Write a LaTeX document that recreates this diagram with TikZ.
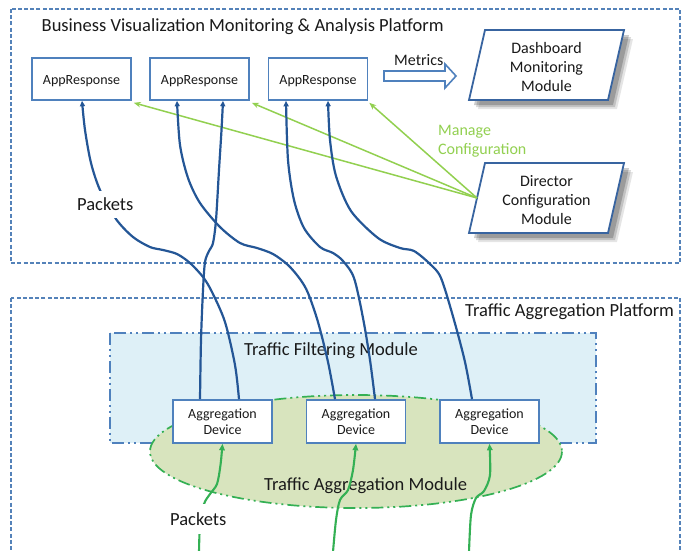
\documentclass[tikz,border=0pt]{standalone}
\usepackage{fontspec}
\setmainfont{Carlito}
\usetikzlibrary{calc,arrows.meta}
\definecolor{boxblue}{RGB}{79,129,189}
\definecolor{parablue}{RGB}{56,100,160}
\definecolor{dashblue}{RGB}{84,130,185}
\definecolor{curveblue}{RGB}{36,86,150}
\definecolor{pktgreen}{RGB}{52,176,84}
\definecolor{cfggreen}{RGB}{146,208,80}
\definecolor{filterfill}{RGB}{222,240,247}
\definecolor{aggfill}{RGB}{216,228,190}
\definecolor{txt}{RGB}{26,26,26}
\tikzset{
 outerbox/.style={draw=dashblue, line width=1.4pt, dash pattern=on 4pt off 2.2pt},
 appbox/.style={draw=boxblue, line width=1.6pt, fill=white, minimum width=99pt, minimum height=42pt, font=\fontsize{14}{16}\selectfont, text=txt, text height=13pt, text depth=1.5pt, inner sep=0pt},
 aggbox/.style={draw=boxblue, line width=1.6pt, fill=white, minimum width=99pt, minimum height=43pt, font=\fontsize{14}{16}\selectfont, text=txt, align=center, inner sep=0pt},
 bigtext/.style={font=\fontsize{18.5}{22}\selectfont, text=txt, inner sep=0pt, anchor=base west},
 midtext/.style={font=\fontsize{16}{19}\selectfont, text=txt, inner sep=0pt, align=center},
 flow/.style={draw=curveblue, line width=2.2pt, -{Triangle[length=5.5pt,width=5pt]}},
 pkt/.style={draw=pktgreen, line width=2.1pt, -{Triangle[length=6.5pt,width=5.5pt]}},
 cfg/.style={draw=cfggreen, line width=1.5pt, -{Stealth[length=7pt,width=5.5pt]}},
 para/.style={draw=parablue, line width=1.8pt, fill=white},
 dashdotdot/.style={dash pattern=on 12pt off 4pt on 2pt off 4pt on 2pt off 4pt},
}
\begin{document}
\begin{tikzpicture}[x=1pt,y=-1pt]
\useasboundingbox (0,0) rectangle (686,550);
\clip (0,0) rectangle (686,550);
\fill[white] (0,0) rectangle (686,550);

% outer platforms
\draw[outerbox] (11,9) rectangle (680,263);
\draw[outerbox] (11,298) rectangle (680,570);

% filtering module
\filldraw[fill=filterfill, draw=boxblue, line width=1.6pt, dashdotdot] (110,333) rectangle (596,443);
% aggregation module
\filldraw[fill=aggfill, draw=pktgreen, line width=1.7pt, dashdotdot] (356,451.5) ellipse [x radius=206, y radius=56.5];

% texts
\node[bigtext] (title) at (41.5,31.5) {Business Visualization Monitoring \& Analysis Platform};
\node[bigtext] (tap) at (465,316) {Traffic Aggregation Platform};
\node[bigtext] (tfm) at (244,355) {Traffic Filtering Module};
\node[bigtext] (tam) at (264,490) {Traffic Aggregation Module};

% parallelograms with shadows
\foreach \o/\op in {9/0.10,7/0.15,5/0.2}{
  \fill[black, opacity=\op] ($(546.5,65)+(\o,\o)$) +(-77.5,35) -- +(61.5,35) -- +(77.5,-35) -- +(-61.5,-35) -- cycle;
  \fill[black, opacity=\op] ($(546.5,198)+(\o,\o)$) +(-77.5,35) -- +(61.5,35) -- +(77.5,-35) -- +(-61.5,-35) -- cycle;
}
\draw[para] (546.5,65) +(-77.5,35) -- +(61.5,35) -- +(77.5,-35) -- +(-61.5,-35) -- cycle;
\draw[para] (546.5,198) +(-77.5,35) -- +(61.5,35) -- +(77.5,-35) -- +(-61.5,-35) -- cycle;
\node[midtext] (dash) at (546.5,66.5) {Dashboard\\Monitoring\\Module};
\node[midtext] (dir) at (546.5,200) {Director\\Configuration\\Module};
\coordinate (dirL) at ($(dir)+(-69.5,-2)$);

% metrics arrow
\filldraw[fill=white, draw=boxblue, line width=1.6pt] (384,71) -- (445,71) -- (445,64) -- (456,76) -- (445,88) -- (445,81) -- (384,81) -- cycle;
\node[midtext, anchor=base west] (metrics) at (394,65) {Metrics};
\node[midtext, anchor=base west, text=cfggreen, align=left] (manage) at (438,154) {Manage\\Configuration};

% AppResponse boxes
\node[appbox] (app1) at (81.5,79) {AppResponse};
\node[appbox] (app2) at (199.5,79) {AppResponse};
\node[appbox] (app3) at (318,79) {AppResponse};

% Aggregation devices
\node[aggbox] (agg1) at (222.5,421.5) {Aggregation\\Device};
\node[aggbox] (agg2) at (356,421.5) {Aggregation\\Device};
\node[aggbox] (agg3) at (489.5,421.5) {Aggregation\\Device};

% config lines
\draw[cfg] (dirL) -- ($(app1.south east)+(2,2)$);
\draw[cfg] (dirL) -- ($(app2.south east)+(2,2)$);
\draw[cfg] (dirL) -- ($(app3.south east)+(1,2)$);

% blue packet flows
\coordinate (as) at ($(agg1.north)+(-22.5,0)$);
\coordinate (ae) at ($(app2.south)+(23.5,0)$);
\coordinate (bs) at ($(agg1.north)+(16.5,0)$);
\coordinate (be) at ($(app1.south)+(0.5,0)$);
\coordinate (cs) at ($(agg2.north)+(-21,0)$);
\coordinate (ce) at ($(app2.south)+(-22.5,0)$);
\coordinate (ds) at ($(agg2.north)+(19,0)$);
\coordinate (de) at ($(app3.south)+(-32,0)$);
\coordinate (es) at ($(agg3.north)+(-17.5,0)$);
\coordinate (ee) at ($(app3.south)+(10,0)$);

\draw[flow] plot[smooth, tension=0.5] coordinates {(as) (201,340) (203,290) (205,262) (209,251) (213,243) (216,220) (219,170) (221.5,130) (ae)};
\draw[flow] plot[smooth, tension=0.5] coordinates {(bs) (235,365) (225,322) (212,292) (203,277) (190,263) (177,254) (163,250) (150,247) (133,237) (116,219) (100,190) (91,163) (85,130) (be)};
\draw[flow] plot[smooth, tension=0.5] coordinates {(cs) (328,362) (318,322) (308,293) (300,279) (288,265) (273,254) (257,248) (240,243) (220,227) (200,203) (188,178) (180,145) (ce)};
\draw[flow] plot[smooth, tension=0.5] coordinates {(ds) (370,360) (363,318) (354,278) (343,261) (333,253) (320,247) (304,228) (294,200) (288,160) (de)};
\draw[flow] plot[smooth, tension=0.5] coordinates {(es) (465,362) (454,320) (441,278) (430,264) (414,251) (400,248) (378,238) (351,211) (336,176) (330,140) (ee)};

% green packet arrows
\coordinate (g1s) at (199,552);
\coordinate (g2s) at (333,552);
\coordinate (g3s) at (469,552);
\draw[pkt] plot[smooth, tension=0.5] coordinates {(g1s) (200,525) (204,504) (210,494) (217,484) (220.5,465) (agg1.south)};
\draw[pkt] plot[smooth, tension=0.5] coordinates {(g2s) (336,520) (340,500) (348,490) (353,470) (agg2.south)};
\draw[pkt] plot[smooth, tension=0.5] coordinates {(g3s) (471,515) (476,498) (484,491) (490,475) (agg3.south)};

% packet labels
\node[bigtext, fill=white, inner xsep=2pt, inner ysep=7pt] (pk1) at (75,210.7) {Packets};
\node[bigtext, fill=white, inner xsep=2pt, inner ysep=8.5pt] (pk2) at (168,525) {Packets};
\end{tikzpicture}
\end{document}
